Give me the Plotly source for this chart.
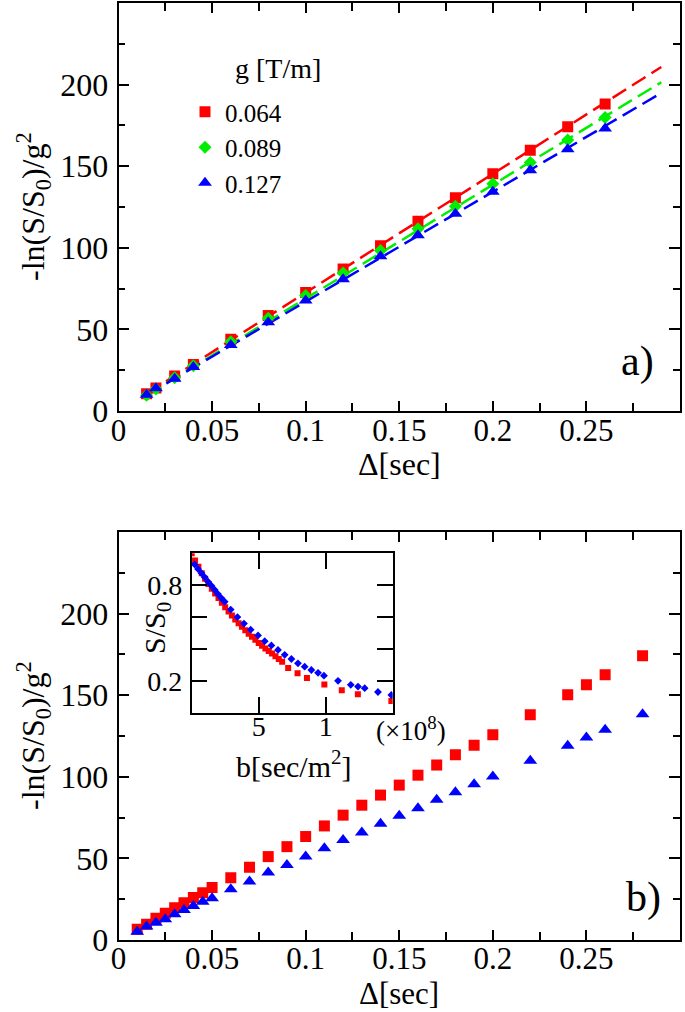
import plotly.graph_objects as go

W, H = 685, 1012
FONT = "'Liberation Serif', 'Times New Roman', Times, 'Nimbus Roman', 'DejaVu Serif', serif"

# ---------------- Panel a) data ----------------
delta_a = [0.015, 0.02, 0.03, 0.04, 0.06, 0.08, 0.10, 0.12, 0.14, 0.16, 0.18, 0.20, 0.22, 0.24, 0.26]
g_labels = ["0.064", "0.089", "0.127"]
a_g064 = [10.6, 14.1, 21.5, 28.5, 43.9, 58.5, 72.6, 87.0, 101.3, 116.3, 130.7, 145.4, 159.8, 174.2, 188.1]
a_g089 = [9.6, 13.5, 20.3, 27.7, 42.5, 56.8, 70.8, 84.5, 98.3, 111.6, 125.5, 139.3, 152.2, 166.0, 179.9]
a_g127 = [10.0, 13.9, 19.7, 27.0, 40.4, 54.4, 67.7, 80.8, 94.8, 107.7, 120.8, 134.4, 147.5, 160.4, 173.1]
fit_slope = [728.0, 697.5, 673.0]
fit_intercept = [-0.3, -0.86, -0.3]
fit_range = [0.015, 0.29]

# ---------------- Panel b) data ----------------
delta_b = [0.01, 0.015, 0.02, 0.025, 0.03, 0.035, 0.04, 0.045, 0.05, 0.06, 0.07, 0.08, 0.09, 0.10,
           0.11, 0.12, 0.13, 0.14, 0.15, 0.16, 0.17, 0.18, 0.19, 0.20, 0.22, 0.24, 0.25, 0.26, 0.28]
b_red = [6.6, 9.6, 13.3, 16.4, 19.8, 22.9, 26.0, 29.0, 32.1, 38.2, 44.6, 51.1, 57.2, 63.4,
         69.9, 76.5, 82.6, 88.8, 94.9, 101.0, 107.2, 113.5, 119.4, 125.8, 138.0, 150.3, 156.4, 162.6, 174.2]
b_blue = [5.1, 8.2, 10.6, 12.7, 15.8, 18.4, 20.9, 23.5, 25.6, 31.1, 35.8, 41.3, 46.0, 51.1,
          56.2, 61.3, 65.8, 71.2, 76.1, 80.8, 85.9, 90.6, 95.5, 100.2, 109.8, 119.0, 124.1, 128.8, 138.4]

# ---------------- Inset data (b in units of 1e8 sec/m^2) ----------------
inset_b_red = [0.0, 0.25, 0.5, 0.75, 1.0, 1.25, 1.5, 1.75, 2.0, 2.25, 2.5, 2.75, 3.0, 3.25, 3.5,
               3.75, 4.0, 4.25, 4.5, 4.75, 5.0, 5.25, 5.5, 5.75, 6.0, 6.25, 6.5, 6.75,
               7.2, 7.9, 8.6, 9.9, 11.2, 12.4, 14.9]
inset_s_red = [1.000, 0.955, 0.915, 0.875, 0.840, 0.808, 0.778, 0.748, 0.719, 0.690, 0.662, 0.635,
               0.610, 0.585, 0.561, 0.539, 0.517, 0.496, 0.476, 0.457, 0.438, 0.420, 0.403, 0.387,
               0.371, 0.354, 0.337, 0.320, 0.280, 0.248, 0.218, 0.177, 0.141, 0.116, 0.074]
inset_b_blue = [0.22, 0.47, 0.72, 0.97, 1.22, 1.47, 1.72, 1.96, 2.21, 2.46, 2.91, 3.41, 3.90, 4.40,
                4.95, 5.45, 5.95, 6.44, 6.94, 7.44, 7.93, 8.43, 8.93, 9.43, 9.87, 10.92, 11.87,
                12.41, 12.91, 13.9, 14.9]
inset_s_blue = [0.930, 0.902, 0.876, 0.850, 0.822, 0.797, 0.770, 0.744, 0.719, 0.696, 0.647, 0.600,
                0.559, 0.521, 0.485, 0.449, 0.422, 0.394, 0.363, 0.337, 0.310, 0.289, 0.268, 0.250,
                0.232, 0.200, 0.175, 0.164, 0.154, 0.130, 0.111]

# tick labels
main_xticks = [0, 0.05, 0.10, 0.15, 0.20, 0.25]
main_xticktext = ["0", "0.05", "0.1", "0.15", "0.2", "0.25"]
main_yticks = [0, 50, 100, 150, 200]
main_yticktext = ["0", "50", "100", "150", "200"]
inset_xticks = [5, 10]
inset_xticktext = ["5", "1"]
inset_yticks = [0.2, 0.8]
inset_yticktext = ["0.2", "0.8"]
inset_yminor = [0.4, 0.6]

RED, GREEN, BLUE = "#ff0000", "#00ee00", "#0000ff"
colors = [RED, GREEN, BLUE]


def px_x(x):
    return x / W


def px_y(y):
    return 1 - y / H


fig = go.Figure()

# fit lines (panel a)
for s, c, col in zip(fit_slope, fit_intercept, colors):
    fig.add_trace(go.Scatter(
        x=fit_range, y=[s * fit_range[0] + c, s * fit_range[1] + c],
        mode="lines", line=dict(color=col, width=2.5, dash="16px,7px"),
        showlegend=False, xaxis="x", yaxis="y", hoverinfo="skip"))

# points (panel a)
fig.add_trace(go.Scatter(x=delta_a, y=a_g064, mode="markers", name=g_labels[0],
                         marker=dict(symbol="square", size=11, color=RED), xaxis="x", yaxis="y"))
fig.add_trace(go.Scatter(x=delta_a, y=a_g089, mode="markers", name=g_labels[1],
                         marker=dict(symbol="diamond", size=10, color=GREEN), xaxis="x", yaxis="y"))
fig.add_trace(go.Scatter(x=delta_a, y=a_g127, mode="markers", name=g_labels[2],
                         marker=dict(symbol="triangle-up", size=12, color=BLUE), xaxis="x", yaxis="y"))

# panel b
fig.add_trace(go.Scatter(x=delta_b, y=b_red, mode="markers", showlegend=False,
                         marker=dict(symbol="square", size=11, color=RED), xaxis="x2", yaxis="y2"))
fig.add_trace(go.Scatter(x=delta_b, y=b_blue, mode="markers", showlegend=False,
                         marker=dict(symbol="triangle-up", size=12, color=BLUE), xaxis="x2", yaxis="y2"))

# inset
fig.add_trace(go.Scatter(x=inset_b_red, y=inset_s_red, mode="markers", showlegend=False,
                         marker=dict(symbol="square", size=6, color=RED), xaxis="x3", yaxis="y3"))
fig.add_trace(go.Scatter(x=inset_b_blue, y=inset_s_blue, mode="markers", showlegend=False,
                         marker=dict(symbol="diamond", size=6, color=BLUE), xaxis="x3", yaxis="y3"))

axis_common = dict(showline=True, linecolor="black", linewidth=1.5, mirror="ticks",
                   ticks="inside", tickcolor="black", tickwidth=1.5, showgrid=False,
                   zeroline=False, automargin=False,
                   tickfont=dict(family=FONT, size=31, color="black"))

xmain = dict(axis_common, range=[0, 0.3], tickmode="array", tickvals=main_xticks,
             ticktext=main_xticktext, ticklen=10, ticklabelstandoff=-9,
             minor=dict(tickmode="linear", tick0=0, dtick=0.025, ticklen=8,
                        ticks="inside", tickcolor="black", tickwidth=1.5))
ymain = dict(axis_common, range=[0, 250], tickmode="array", tickvals=main_yticks,
             ticktext=main_yticktext, ticklen=11, ticklabelstandoff=2,
             tickfont=dict(family=FONT, size=32, color="black"),
             minor=dict(tickmode="linear", tick0=0, dtick=25, ticklen=7,
                        ticks="inside", tickcolor="black", tickwidth=1.5))

xdom = [px_x(118.5), px_x(680)]

fig.update_layout(
    width=W, height=H,
    margin=dict(l=0, r=0, t=0, b=0),
    paper_bgcolor="white", plot_bgcolor="white",
    font=dict(family=FONT, color="black"),
    xaxis=dict(xmain, domain=xdom, anchor="y"),
    yaxis=dict(ymain, domain=[px_y(411), px_y(3)], anchor="x"),
    xaxis2=dict(xmain, domain=xdom, anchor="y2", ticklabelstandoff=-10),
    yaxis2=dict(ymain, domain=[px_y(940), px_y(532)], anchor="x2"),
    xaxis3=dict(axis_common, domain=[px_x(191.7), px_x(392.7)], anchor="y3",
                range=[0, 15], tickmode="array", tickvals=inset_xticks,
                ticktext=inset_xticktext, ticklen=16, ticklabelstandoff=-12,
                tickfont=dict(family=FONT, size=28, color="black")),
    yaxis3=dict(axis_common, domain=[px_y(712.7), px_y(553.3)], anchor="x3",
                range=[0, 1], tickmode="array", tickvals=inset_yticks,
                ticktext=inset_yticktext, ticklen=16, ticklabelstandoff=2,
                tickfont=dict(family=FONT, size=28, color="black"),
                minor=dict(tickmode="array", tickvals=inset_yminor, ticklen=16,
                           ticks="inside", tickcolor="black", tickwidth=1.5)),
    showlegend=True,
    legend=dict(x=px_x(185), y=px_y(89), xanchor="left", yanchor="top",
                bgcolor="rgba(0,0,0,0)", font=dict(family=FONT, size=25, color="black"),
                tracegroupgap=0),
)

ann = []


def add_text(text, x, y, size, angle=0, xanchor="center"):
    ann.append(dict(text=text, x=px_x(x), y=px_y(y), xref="paper", yref="paper",
                    showarrow=False, textangle=angle, xanchor=xanchor, yanchor="middle",
                    font=dict(family=FONT, size=size, color="black")))


add_text("g [T/m]", 233, 68, 28, xanchor="left")
add_text("Δ[sec]", 399, 464, 32)
add_text("Δ[sec]", 399, 993, 31)
add_text("-ln(S/S<sub>0</sub>)/g<sup>2</sup>", 33, 207, 32, angle=-90)
add_text("-ln(S/S<sub>0</sub>)/g<sup>2</sup>", 33, 736, 32, angle=-90)
add_text("a)", 637, 362, 42)
add_text("b)", 643, 897, 42)
add_text("S/S<sub>0</sub>", 157, 628, 30, angle=-90)
add_text("b[sec/m<sup>2</sup>]", 293, 764, 30)
add_text("(×10<sup>8</sup>)", 411, 729, 27)

fig.update_layout(annotations=ann)

fig.write_html("out.html",
               config={"displayModeBar": False},
               post_script="document.body.style.margin='0';document.body.style.overflow='hidden';")
